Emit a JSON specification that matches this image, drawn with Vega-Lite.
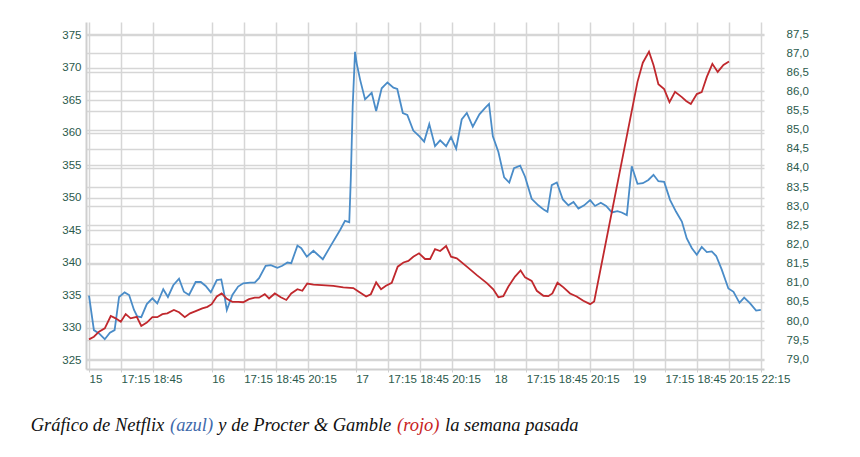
{
  "$schema": "https://vega.github.io/schema/vega-lite/v6.json",
  "width": 678,
  "height": 347,
  "autosize": {"type": "none"},
  "padding": {"left": 86, "top": 22, "right": 96, "bottom": 88},
  "background": "white",
  "config": {
    "view": {"stroke": null},
    "axis": {
      "labelFont": "Liberation Sans",
      "labelFontSize": 11.5,
      "labelColor": "#2b5a4c",
      "gridColor": "#d6d6d6",
      "gridWidth": 1.5,
      "domainColor": "#cfcfcf",
      "domainWidth": 2,
      "tickColor": "#cfcfcf",
      "title": null
    },
    "text": {"align": "left", "baseline": "alphabetic", "font": "Liberation Serif", "fontStyle": "italic", "fontSize": 18.5}
  },
  "datasets": {
    "netflix": [
      {"t": 0, "precio": 334.9}, {"t": 0.23, "precio": 329.6}, {"t": 0.47, "precio": 329.1},
      {"t": 0.74, "precio": 328.2}, {"t": 0.98, "precio": 329.2}, {"t": 1.2, "precio": 329.6},
      {"t": 1.41, "precio": 334.7}, {"t": 1.67, "precio": 335.4}, {"t": 1.88, "precio": 335.0},
      {"t": 2.11, "precio": 332.7}, {"t": 2.26, "precio": 331.7}, {"t": 2.45, "precio": 331.6},
      {"t": 2.71, "precio": 333.6}, {"t": 2.97, "precio": 334.5}, {"t": 3.2, "precio": 333.7},
      {"t": 3.48, "precio": 335.9}, {"t": 3.7, "precio": 334.7}, {"t": 3.95, "precio": 336.5},
      {"t": 4.22, "precio": 337.5}, {"t": 4.45, "precio": 335.5}, {"t": 4.69, "precio": 335.0},
      {"t": 5.0, "precio": 337.0}, {"t": 5.24, "precio": 337.0}, {"t": 5.47, "precio": 336.4},
      {"t": 5.71, "precio": 335.4}, {"t": 5.99, "precio": 337.3}, {"t": 6.2, "precio": 337.4},
      {"t": 6.33, "precio": 335.3}, {"t": 6.46, "precio": 332.7}, {"t": 6.72, "precio": 335.0},
      {"t": 6.99, "precio": 336.3}, {"t": 7.23, "precio": 336.8}, {"t": 7.55, "precio": 336.9},
      {"t": 7.77, "precio": 336.9}, {"t": 7.97, "precio": 337.6}, {"t": 8.28, "precio": 339.5},
      {"t": 8.52, "precio": 339.6}, {"t": 8.83, "precio": 339.2}, {"t": 9.06, "precio": 339.5},
      {"t": 9.3, "precio": 340.0}, {"t": 9.48, "precio": 339.9}, {"t": 9.77, "precio": 342.6},
      {"t": 9.95, "precio": 342.2}, {"t": 10.21, "precio": 340.9}, {"t": 10.52, "precio": 341.8},
      {"t": 10.96, "precio": 340.5}, {"t": 11.3, "precio": 342.4}, {"t": 11.77, "precio": 345.0},
      {"t": 12.0, "precio": 346.4}, {"t": 12.2, "precio": 346.2}, {"t": 12.27, "precio": 352.7},
      {"t": 12.36, "precio": 364.0}, {"t": 12.47, "precio": 372.4}, {"t": 12.55, "precio": 370.6},
      {"t": 12.71, "precio": 368.1}, {"t": 12.94, "precio": 365.1}, {"t": 13.25, "precio": 366.1},
      {"t": 13.46, "precio": 363.3}, {"t": 13.72, "precio": 366.8}, {"t": 13.99, "precio": 367.7},
      {"t": 14.27, "precio": 366.9}, {"t": 14.45, "precio": 366.7}, {"t": 14.71, "precio": 363.0},
      {"t": 14.92, "precio": 362.7}, {"t": 15.2, "precio": 360.3}, {"t": 15.49, "precio": 359.4},
      {"t": 15.71, "precio": 358.6}, {"t": 15.95, "precio": 361.3}, {"t": 16.22, "precio": 357.9},
      {"t": 16.46, "precio": 358.8}, {"t": 16.74, "precio": 357.9}, {"t": 16.97, "precio": 359.3},
      {"t": 17.21, "precio": 357.5}, {"t": 17.47, "precio": 362.0}, {"t": 17.71, "precio": 363.0},
      {"t": 17.99, "precio": 360.9}, {"t": 18.3, "precio": 362.8}, {"t": 18.57, "precio": 363.8},
      {"t": 18.75, "precio": 364.4}, {"t": 18.93, "precio": 359.4}, {"t": 19.19, "precio": 357.0},
      {"t": 19.46, "precio": 353.1}, {"t": 19.7, "precio": 352.3}, {"t": 19.92, "precio": 354.5},
      {"t": 20.21, "precio": 354.9}, {"t": 20.44, "precio": 353.2}, {"t": 20.75, "precio": 349.8},
      {"t": 21.06, "precio": 348.8}, {"t": 21.33, "precio": 348.1}, {"t": 21.49, "precio": 347.8},
      {"t": 21.69, "precio": 351.9}, {"t": 21.93, "precio": 352.3}, {"t": 22.21, "precio": 349.7},
      {"t": 22.47, "precio": 348.8}, {"t": 22.71, "precio": 349.3}, {"t": 22.94, "precio": 348.3},
      {"t": 23.21, "precio": 348.8}, {"t": 23.49, "precio": 349.6}, {"t": 23.72, "precio": 348.7},
      {"t": 23.99, "precio": 349.2}, {"t": 24.24, "precio": 348.7}, {"t": 24.51, "precio": 347.7},
      {"t": 24.77, "precio": 347.9}, {"t": 24.97, "precio": 347.7}, {"t": 25.21, "precio": 347.3},
      {"t": 25.44, "precio": 354.8}, {"t": 25.71, "precio": 352.1}, {"t": 25.96, "precio": 352.2},
      {"t": 26.22, "precio": 352.7}, {"t": 26.46, "precio": 353.5}, {"t": 26.69, "precio": 352.5},
      {"t": 26.96, "precio": 352.4}, {"t": 27.24, "precio": 349.6}, {"t": 27.52, "precio": 347.8},
      {"t": 27.79, "precio": 346.3}, {"t": 28.02, "precio": 343.7}, {"t": 28.26, "precio": 342.2},
      {"t": 28.49, "precio": 341.2}, {"t": 28.72, "precio": 342.4}, {"t": 28.96, "precio": 341.6},
      {"t": 29.19, "precio": 341.7}, {"t": 29.4, "precio": 341.0}, {"t": 29.66, "precio": 338.9},
      {"t": 29.97, "precio": 336.0}, {"t": 30.21, "precio": 335.5}, {"t": 30.49, "precio": 333.8},
      {"t": 30.71, "precio": 334.6}, {"t": 30.99, "precio": 333.7}, {"t": 31.27, "precio": 332.6},
      {"t": 31.49, "precio": 332.7}
    ],
    "pg": [
      {"t": 0, "precio": 79.52}, {"t": 0.23, "precio": 79.59}, {"t": 0.47, "precio": 79.72},
      {"t": 0.74, "precio": 79.81}, {"t": 1.02, "precio": 80.13}, {"t": 1.25, "precio": 80.07},
      {"t": 1.49, "precio": 79.98}, {"t": 1.72, "precio": 80.18}, {"t": 1.95, "precio": 80.07},
      {"t": 2.24, "precio": 80.11}, {"t": 2.45, "precio": 79.87}, {"t": 2.71, "precio": 79.96},
      {"t": 2.97, "precio": 80.1}, {"t": 3.2, "precio": 80.1}, {"t": 3.44, "precio": 80.18},
      {"t": 3.67, "precio": 80.2}, {"t": 3.98, "precio": 80.29}, {"t": 4.22, "precio": 80.23},
      {"t": 4.49, "precio": 80.1}, {"t": 4.74, "precio": 80.2}, {"t": 5.0, "precio": 80.26},
      {"t": 5.31, "precio": 80.33}, {"t": 5.55, "precio": 80.37}, {"t": 5.75, "precio": 80.44},
      {"t": 5.99, "precio": 80.64}, {"t": 6.22, "precio": 80.72}, {"t": 6.46, "precio": 80.58},
      {"t": 6.72, "precio": 80.5}, {"t": 6.99, "precio": 80.5}, {"t": 7.23, "precio": 80.49},
      {"t": 7.5, "precio": 80.57}, {"t": 7.77, "precio": 80.61}, {"t": 7.97, "precio": 80.61},
      {"t": 8.24, "precio": 80.7}, {"t": 8.44, "precio": 80.59}, {"t": 8.71, "precio": 80.72},
      {"t": 8.99, "precio": 80.62}, {"t": 9.25, "precio": 80.55}, {"t": 9.48, "precio": 80.72},
      {"t": 9.77, "precio": 80.83}, {"t": 10.0, "precio": 80.79}, {"t": 10.23, "precio": 80.98},
      {"t": 10.52, "precio": 80.95}, {"t": 10.91, "precio": 80.94}, {"t": 11.45, "precio": 80.92},
      {"t": 11.92, "precio": 80.88}, {"t": 12.39, "precio": 80.86}, {"t": 12.63, "precio": 80.77},
      {"t": 12.99, "precio": 80.64}, {"t": 13.21, "precio": 80.7}, {"t": 13.46, "precio": 81.01},
      {"t": 13.69, "precio": 80.83}, {"t": 13.92, "precio": 80.92}, {"t": 14.19, "precio": 81.0},
      {"t": 14.47, "precio": 81.42}, {"t": 14.74, "precio": 81.53}, {"t": 14.97, "precio": 81.57},
      {"t": 15.2, "precio": 81.68}, {"t": 15.47, "precio": 81.77}, {"t": 15.75, "precio": 81.62},
      {"t": 15.99, "precio": 81.62}, {"t": 16.22, "precio": 81.88}, {"t": 16.46, "precio": 81.83},
      {"t": 16.74, "precio": 81.96}, {"t": 16.97, "precio": 81.68}, {"t": 17.24, "precio": 81.64},
      {"t": 17.71, "precio": 81.42}, {"t": 18.18, "precio": 81.2}, {"t": 18.65, "precio": 80.99},
      {"t": 18.95, "precio": 80.83}, {"t": 19.19, "precio": 80.62}, {"t": 19.42, "precio": 80.65},
      {"t": 19.66, "precio": 80.9}, {"t": 19.97, "precio": 81.16}, {"t": 20.23, "precio": 81.32},
      {"t": 20.44, "precio": 81.14}, {"t": 20.75, "precio": 81.05}, {"t": 20.99, "precio": 80.79},
      {"t": 21.3, "precio": 80.66}, {"t": 21.53, "precio": 80.65}, {"t": 21.72, "precio": 80.72},
      {"t": 21.96, "precio": 81.0}, {"t": 22.24, "precio": 80.88}, {"t": 22.55, "precio": 80.72},
      {"t": 22.86, "precio": 80.64}, {"t": 23.17, "precio": 80.53}, {"t": 23.49, "precio": 80.44},
      {"t": 23.68, "precio": 80.51}, {"t": 25.71, "precio": 86.25}, {"t": 25.96, "precio": 86.75},
      {"t": 26.25, "precio": 87.04}, {"t": 26.46, "precio": 86.69}, {"t": 26.69, "precio": 86.19},
      {"t": 26.96, "precio": 86.06}, {"t": 27.21, "precio": 85.72}, {"t": 27.47, "precio": 85.99},
      {"t": 27.79, "precio": 85.85}, {"t": 27.99, "precio": 85.75}, {"t": 28.21, "precio": 85.67},
      {"t": 28.49, "precio": 85.93}, {"t": 28.72, "precio": 85.98}, {"t": 28.96, "precio": 86.38},
      {"t": 29.22, "precio": 86.72}, {"t": 29.47, "precio": 86.51}, {"t": 29.74, "precio": 86.69},
      {"t": 30.0, "precio": 86.78}
    ],
    "leyenda": [
      {"orden": 1, "texto": "Gráfico de Netflix", "tinta": "negro"},
      {"orden": 2, "texto": "(azul)", "tinta": "azul"},
      {"orden": 3, "texto": "y de Procter & Gamble", "tinta": "negro"},
      {"orden": 4, "texto": "(rojo)", "tinta": "rojo"},
      {"orden": 5, "texto": "la semana pasada", "tinta": "negro"}
    ]
  },
  "layer": [
    {
      "data": {"name": "netflix"},
      "mark": {"type": "line", "color": "#4a8cc8", "strokeWidth": 1.8},
      "encoding": {
        "x": {
          "field": "t",
          "type": "quantitative",
          "scale": {"domain": [-0.1406, 31.64], "nice": false, "zero": false},
          "axis": {
            "values": [0, 1.5, 3, 5.75, 7.25, 8.75, 10.25, 12.5, 14, 15.5, 17, 19, 20.5, 22, 23.5, 25.5, 27, 28.5, 30, 31.5],
            "labelExpr": "['15','17:15','18:45','16','17:15','18:45','20:15','17','17:15','18:45','20:15','18','17:15','18:45','20:15','19','17:15','18:45','20:15','22:15'][indexof([0,1.5,3,5.75,7.25,8.75,10.25,12.5,14,15.5,17,19,20.5,22,23.5,25.5,27,28.5,30,31.5], datum.value)]",
            "labelAlign": "left",
            "labelBaseline": "top",
            "labelOverlap": false,
            "labelBound": false,
            "labelFlush": false,
            "tickSize": 3,
            "labelPadding": 1,
            "grid": true,
            "encode": {
              "labels": {
                "update": {
                  "dy": {"signal": "indexof([0,5.75,12.5,19,25.5], datum.value) >= 0 ? -3 : 0"}
                }
              }
            }
          }
        },
        "y": {
          "field": "precio",
          "type": "quantitative",
          "scale": {"domain": [323.62, 377.0], "nice": false, "zero": false},
          "axis": {
            "orient": "left",
            "values": [325, 330, 335, 340, 345, 350, 355, 360, 365, 370, 375],
            "tickSize": 0,
            "labelPadding": 5,
            "grid": true
          }
        }
      }
    },
    {
      "data": {"name": "pg"},
      "mark": {"type": "line", "color": "#c0282d", "strokeWidth": 1.8},
      "encoding": {
        "x": {
          "field": "t",
          "type": "quantitative",
          "scale": {"domain": [-0.1406, 31.64], "nice": false, "zero": false},
          "axis": null
        },
        "y": {
          "field": "precio",
          "type": "quantitative",
          "scale": {"domain": [78.746, 87.814], "nice": false, "zero": false},
          "axis": {
            "orient": "right",
            "values": [79, 79.5, 80, 80.5, 81, 81.5, 82, 82.5, 83, 83.5, 84, 84.5, 85, 85.5, 86, 86.5, 87, 87.5],
            "labelExpr": "replace(format(datum.value, '.1f'), '.', ',')",
            "tickSize": 0,
            "labelPadding": 22,
            "domain": false,
            "grid": true
          }
        }
      }
    },
    {
      "data": {"name": "leyenda"},
      "encoding": {
        "y": {
          "datum": -0.179,
          "type": "quantitative",
          "scale": {"domain": [0, 1], "nice": false, "zero": false},
          "axis": null
        },
        "text": {"field": "texto"},
        "color": {
          "field": "tinta",
          "type": "nominal",
          "scale": {"domain": ["negro", "azul", "rojo"], "range": ["#111111", "#3f6aab", "#c81e1e"]},
          "legend": null
        }
      },
      "layer": [
        {
          "transform": [{"filter": "datum.orden == 1"}],
          "mark": "text",
          "encoding": {"x": {"datum": -0.0816, "type": "quantitative", "scale": {"domain": [0, 1], "nice": false, "zero": false}, "axis": null}}
        },
        {
          "transform": [{"filter": "datum.orden == 2"}],
          "mark": "text",
          "encoding": {"x": {"datum": 0.1239, "type": "quantitative"}}
        },
        {
          "transform": [{"filter": "datum.orden == 3"}],
          "mark": "text",
          "encoding": {"x": {"datum": 0.1952, "type": "quantitative"}}
        },
        {
          "transform": [{"filter": "datum.orden == 4"}],
          "mark": "text",
          "encoding": {"x": {"datum": 0.4587, "type": "quantitative"}}
        },
        {
          "transform": [{"filter": "datum.orden == 5"}],
          "mark": "text",
          "encoding": {"x": {"datum": 0.5295, "type": "quantitative"}}
        }
      ]
    }
  ],
  "resolve": {
    "scale": {"x": "independent", "y": "independent"},
    "axis": {"x": "independent", "y": "independent"}
  }
}
